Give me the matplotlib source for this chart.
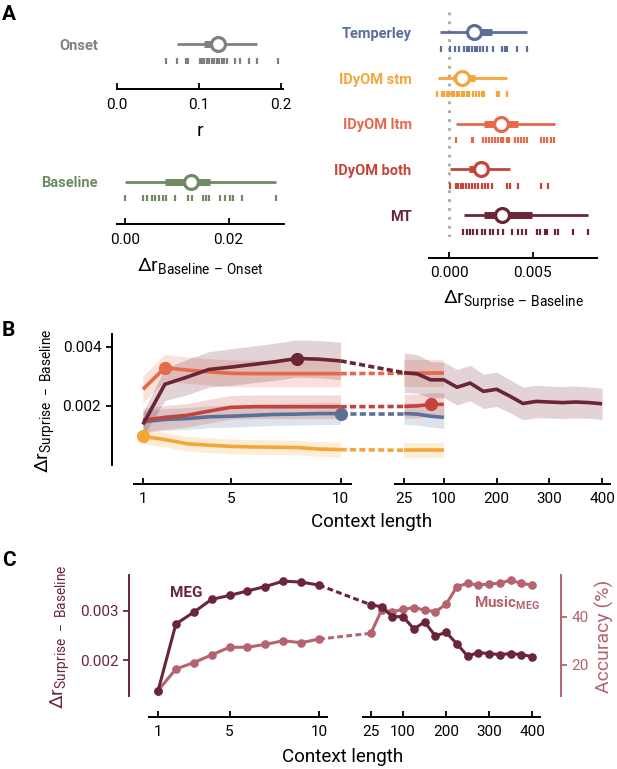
import numpy as np
import matplotlib
matplotlib.use('Agg')
import matplotlib.pyplot as plt
import matplotlib.transforms as mtransforms

plt.rcParams['font.family'] = ['Roboto', 'DejaVu Sans']
plt.rcParams['mathtext.fontset'] = 'custom'
plt.rcParams['mathtext.rm'] = 'Roboto'
plt.rcParams['mathtext.it'] = 'Roboto'
plt.rcParams['mathtext.bf'] = 'Roboto:bold'
plt.rcParams['mathtext.default'] = 'regular'
plt.rcParams['axes.linewidth'] = 1.4
plt.rcParams['xtick.major.width'] = 1.3
plt.rcParams['ytick.major.width'] = 1.3
plt.rcParams['xtick.major.size'] = 4
plt.rcParams['ytick.major.size'] = 4
plt.rcParams['xtick.labelsize'] = 11
plt.rcParams['ytick.labelsize'] = 11

# ---------------- data ----------------
# panel A, left: Onset (r) and Baseline (delta r)
onset_rug = [0.060, 0.073, 0.084, 0.087, 0.101, 0.104, 0.107, 0.110, 0.113, 0.116, 0.119,
             0.122, 0.125, 0.128, 0.131, 0.134, 0.144, 0.150, 0.161, 0.171, 0.197]
onset_stats = [0.074, 0.106, 0.124, 0.131, 0.171]   # lo, q1, centre, q3, hi
baseline_rug = [0.0, 0.0035, 0.0043, 0.0052, 0.0058, 0.0066, 0.0074, 0.0080, 0.0097, 0.0122,
                0.0129, 0.0150, 0.0156, 0.0163, 0.0183, 0.0193, 0.0203, 0.0209, 0.0225, 0.0291]
baseline_stats = [0.0, 0.0078, 0.0127, 0.0165, 0.0291]

# panel A, right: surprise models
models = ['Temperley', 'IDyOM stm', 'IDyOM ltm', 'IDyOM both', 'MT']
model_stats = [
    [-0.00054, 0.0011, 0.0015, 0.00254, 0.00464],
    [-0.0007, 0.00024, 0.00078, 0.00156, 0.00346],
    [0.0004, 0.0021, 0.0031, 0.00414, 0.00634],
    [0.00004, 0.0012, 0.00188, 0.0023, 0.00364],
    [0.0009, 0.0021, 0.00318, 0.00494, 0.00834],
]
temperley_rug = [-0.00052, 0.00004, 0.00034, 0.0006, 0.0009, 0.00104, 0.0012, 0.00136, 0.00152,
                 0.00168, 0.00184, 0.00204, 0.00228, 0.0026, 0.00314, 0.00334, 0.00348, 0.00408, 0.00468]
stm_rug = [-0.00072, -0.00046, -0.00032, -0.00016, 0.0, 0.00016, 0.00028, 0.00044, 0.0006, 0.00074,
           0.0009, 0.00104, 0.0012, 0.00144, 0.0016, 0.0018, 0.00194, 0.00208, 0.00284, 0.003, 0.00348]
ltm_rug = [0.0004, 0.00134, 0.00144, 0.00204, 0.0022, 0.00236, 0.00254, 0.00274, 0.00294, 0.00308,
           0.00324, 0.00344, 0.00358, 0.00396, 0.00412, 0.00432, 0.00448, 0.00464, 0.00548, 0.00568,
           0.00588, 0.00608, 0.00628]
both_rug = [0.00004, 0.0004, 0.00054, 0.00068, 0.00084, 0.001, 0.0012, 0.00134, 0.00154, 0.00174,
            0.00194, 0.00214, 0.00234, 0.00254, 0.00348, 0.00364, 0.00414, 0.00548, 0.00594]
mt_rug = [0.00084, 0.00104, 0.00124, 0.00144, 0.00164, 0.00194, 0.00214, 0.00244, 0.00264, 0.00294,
          0.0032, 0.00374, 0.00414, 0.00434, 0.0046, 0.00524, 0.00544, 0.00574, 0.00588, 0.00634,
          0.00654, 0.00744, 0.00834]
model_rugs = [temperley_rug, stm_rug, ltm_rug, both_rug, mt_rug]

# panels B and C: context length
ctx_short = [1, 2, 3, 4, 5, 6, 7, 8, 9, 10]
ctx_long = [25, 50, 75, 100, 125, 150, 175, 200, 225, 250, 275, 300, 325, 350, 375, 400]
ctx_ticks = [1, 5, 10, 25, 100, 200, 300, 400]

mt_short = [0.00137, 0.00273, 0.00297, 0.00323, 0.00331, 0.00340, 0.00349, 0.00360, 0.00358, 0.00352]
mt_long = [0.00312, 0.00308, 0.00288, 0.00288, 0.00263, 0.00277, 0.00249, 0.00256, 0.00233,
           0.00208, 0.00215, 0.00213, 0.00211, 0.00213, 0.00211, 0.00207]
mt_sem_short = [0.0004, 0.00055, 0.0006, 0.0006, 0.00062, 0.00062, 0.00063, 0.00063, 0.00063, 0.00063]
mt_sem_long = [0.00067, 0.00065, 0.00062, 0.0006, 0.0006, 0.0006, 0.00058, 0.00058, 0.00056,
               0.00055, 0.00055, 0.00054, 0.00054, 0.00054, 0.00053, 0.00053]

ltm_short = [0.00256, 0.00329, 0.00321, 0.00315, 0.00310, 0.00309, 0.00309, 0.00309, 0.00309, 0.00309]
ltm_long = [0.00310, 0.00310, 0.00310, 0.00310]
both_short = [0.00152, 0.00161, 0.00168, 0.00182, 0.00195, 0.00197, 0.00197, 0.00197, 0.00197, 0.00197]
both_long = [0.00198, 0.00200, 0.00205, 0.00205]
temp_short = [0.00146, 0.00154, 0.00157, 0.00163, 0.00165, 0.00168, 0.00171, 0.00172, 0.00174, 0.00174]
temp_long = [0.00174, 0.00172, 0.00165, 0.00161]
stm_short = [0.00097, 0.00086, 0.00072, 0.00067, 0.00063, 0.00061, 0.00060, 0.00059, 0.00054, 0.00052]
stm_long = [0.00050, 0.00050, 0.00050, 0.00050]
ltm_sem, both_sem, temp_sem, stm_sem = 0.00045, 0.0004, 0.00037, 0.00025
best_ctx = {'Temperley': 10, 'IDyOM stm': 1, 'IDyOM ltm': 2, 'IDyOM both': 75, 'MT': 8}

acc_short = [9.3, 18.3, 21.0, 24.2, 27.4, 27.4, 28.6, 30.1, 29.3, 30.8]
acc_long = [33.2, 42.9, 42.2, 43.2, 43.9, 42.9, 42.2, 45.3, 52.6, 54.0, 53.3, 53.8, 54.0, 55.4, 54.0, 53.3]

colors = {'Temperley': '#5b6f98', 'IDyOM stm': '#f4a63a', 'IDyOM ltm': '#e6694a',
          'IDyOM both': '#c4443a', 'MT': '#6a2536'}
c_onset = '#808080'
c_base = '#6e8b62'
c_acc = '#b5636f'

W, H = 617, 769
fig = plt.figure(figsize=(W / 100, H / 100), dpi=100)


def add_ax(x0, y0, x1, y1):
    return fig.add_axes([x0 / W, 1 - y1 / H, (x1 - x0) / W, (y1 - y0) / H])


STEP = 1.665
GAP = 4.83


def xpos(n):
    n = np.asarray(n, float)
    return np.where(n <= 10, (n - 1) * STEP, 9 * STEP + GAP + (n - 25) / 25)


def forest(ax, names, cols, stats, rugs, pad):
    for i in range(len(names)):
        c = cols[i]
        lo, q1, med, q3, hi = stats[i]
        ax.plot([lo, hi], [i, i], color=c, lw=2.0, solid_capstyle='butt')
        ax.plot([q1, q3], [i, i], color=c, lw=5, solid_capstyle='butt')
        ax.plot(med, i, 'o', ms=10, mfc='white', mec=c, mew=2.3)
        ax.plot(rugs[i], np.full(len(rugs[i]), i + 0.36), '|', color=c, ms=4.6, mew=1.6)
    ax.set_yticks(range(len(names)))
    ax.set_yticklabels(names, fontweight='bold', fontsize=10.5)
    for t, c in zip(ax.get_yticklabels(), cols):
        t.set_color(c)
    ax.tick_params(axis='y', length=0, pad=pad)
    ax.tick_params(axis='x', direction='in', pad=6)
    for s in ['left', 'top', 'right']:
        ax.spines[s].set_visible(False)


# ---------------- panel A ----------------
axO = add_ax(116.7, 21.5, 283, 67.1)
forest(axO, ['Onset'], [c_onset], [onset_stats], [onset_rug], 13.5)
axO.set_ylim(0.5, -0.5)
axO.set_xlim(0, 0.2028)
axO.set_xticks([0, 0.1, 0.2])
axO.set_xticklabels(['0.0', '0.1', '0.2'])
axO.spines['bottom'].set_position(('outward', 16))
axO.set_xlabel('r', fontsize=14)
axO.xaxis.set_label_coords(0.5, -1.2)

axBl = add_ax(116.7, 158.9, 284, 204.5)
forest(axBl, ['Baseline'], [c_base], [baseline_stats], [baseline_rug], 13.5)
axBl.set_ylim(0.5, -0.5)
axBl.set_xlim(-0.0016, 0.0307)
axBl.set_xticks([0, 0.02])
axBl.set_xticklabels(['0.00', '0.02'])
axBl.spines['bottom'].set_position(('outward', 14.3))
axBl.set_xlabel('$\\Delta r_{Baseline\\ \u2013\\ Onset}$', fontsize=14)
axBl.xaxis.set_label_coords(0.5, -1.12)

axM = add_ax(429, 10, 597.3, 237)
forest(axM, models, [colors[m] for m in models], model_stats, model_rugs, 12.5)
axM.axvline(0, color='#a8a8a8', ls=(0, (1, 2.2)), lw=2, zorder=0)
axM.set_ylim(4.48, -0.49)
axM.set_xlim(-0.00122, 0.00887)
axM.set_xticks([0, 0.005])
axM.set_xticklabels(['0.000', '0.005'])
axM.spines['bottom'].set_position(('outward', 14.9))
axM.set_xlabel('$\\Delta r_{Surprise\\ \u2013\\ Baseline}$', fontsize=14)
axM.xaxis.set_label_coords(0.5, -0.23)


def broken_bottom(ax, off_pt, xlim, left_end, right_start):
    sp = ax.spines['bottom']
    sp.set_position(('outward', off_pt))
    sp.set_visible(False)
    tr = ax.get_xaxis_transform() + mtransforms.ScaledTranslation(0, -off_pt / 72, fig.dpi_scale_trans)
    ax.plot([xlim[0], left_end], [0, 0], color='k', lw=1.4, transform=tr, clip_on=False,
            solid_capstyle='butt')
    ax.plot([right_start, xlim[1]], [0, 0], color='k', lw=1.4, transform=tr, clip_on=False,
            solid_capstyle='butt')
    ax.set_xlim(*xlim)
    ax.set_xticks(xpos(ctx_ticks))
    ax.set_xticklabels([str(t) for t in ctx_ticks])
    ax.tick_params(axis='x', direction='in', pad=6)


x10 = float(xpos(10))
x25 = float(xpos(25))

# ---------------- panel B ----------------
axB = add_ax(133, 334, 611, 465)
b_series = [
    ('Temperley', temp_short, temp_long, [temp_sem] * 10, [temp_sem] * 4),
    ('IDyOM stm', stm_short, stm_long, [stm_sem] * 10, [stm_sem] * 4),
    ('IDyOM both', both_short, both_long, [both_sem] * 10, [both_sem] * 4),
    ('IDyOM ltm', ltm_short, ltm_long, [ltm_sem] * 10, [ltm_sem] * 4),
    ('MT', mt_short, mt_long, mt_sem_short, mt_sem_long),
]
for name, ys, yl, ss, sl in b_series:
    c = colors[name]
    ys, yl, ss, sl = map(np.asarray, (ys, yl, ss, sl))
    xs = xpos(ctx_short)
    xl = xpos(ctx_long[:len(yl)])
    axB.fill_between(xs, ys - ss, ys + ss, color=c, alpha=0.2, lw=0)
    axB.fill_between(xl, yl - sl, yl + sl, color=c, alpha=0.2, lw=0)
    axB.plot(xs, ys, color=c, lw=2.6, solid_capstyle='butt')
    axB.plot(xl, yl, color=c, lw=2.6, solid_capstyle='butt')
    axB.plot([x10, x25], [ys[-1], yl[0]], color=c, lw=2.6, ls=(0, (1.7, 0.9)))
    allx = list(ctx_short) + list(ctx_long[:len(yl)])
    ally = list(ys) + list(yl)
    b = best_ctx[name]
    axB.plot(xpos(b), ally[allx.index(b)], 'o', ms=8.5, color=c)

axB.set_ylim(0, 0.00443)
axB.set_yticks([0.002, 0.004])
axB.set_yticklabels(['0.002', '0.004'])
axB.spines['left'].set_position(('outward', 15.3))
for s in ['top', 'right']:
    axB.spines[s].set_visible(False)
broken_bottom(axB, 13.7, (-0.752, 35.49), x10 + 0.83, x25 - 0.75)
axB.set_xlabel('Context length', fontsize=13.5)
axB.xaxis.set_label_coords(0.5, -0.37)
axB.set_ylabel('$\\Delta r_{Surprise\\ -\\ Baseline}$', fontsize=14)
axB.yaxis.set_label_coords(-0.158, 0.49)

# ---------------- panel C ----------------
axC = add_ax(148, 575, 541, 696)
axC2 = axC.twinx()
dark = colors['MT']
xs = xpos(ctx_short)
xl = xpos(ctx_long)
axC2.plot(xs, acc_short, '-o', color=c_acc, lw=2.2, ms=5.2)
axC2.plot(xl, acc_long, '-o', color=c_acc, lw=2.2, ms=5.2)
axC2.plot([x10, x25], [acc_short[-1], acc_long[0]], color=c_acc, lw=2.2, ls=(0, (1.9, 1.1)))
axC.plot(xs, mt_short, '-o', color=dark, lw=2.2, ms=5.2)
axC.plot(xl, mt_long, '-o', color=dark, lw=2.2, ms=5.2)
axC.plot([x10, x25], [mt_short[-1], mt_long[0]], color=dark, lw=2.2, ls=(0, (1.9, 1.1)))
axC.set_zorder(axC2.get_zorder() + 1)
axC.patch.set_visible(False)

axC.set_ylim(0.00127, 0.003724)
axC.set_yticks([0.002, 0.003])
axC.set_yticklabels(['0.002', '0.003'])
axC2.set_ylim(7.08, 57.5)
axC2.set_yticks([20, 40])
axC.spines['left'].set_position(('outward', 13.7))
axC.spines['left'].set_color(dark)
axC.tick_params(axis='y', colors=dark)
axC2.spines['right'].set_position(('outward', 14.4))
axC2.spines['right'].set_color(c_acc)
axC2.tick_params(axis='y', colors=c_acc)
for s in ['top', 'right']:
    axC.spines[s].set_visible(False)
for s in ['top', 'left', 'bottom']:
    axC2.spines[s].set_visible(False)
broken_bottom(axC, 14.9, (-0.93, 35.65), x10 + 0.84, x25 - 0.84)
axC.set_xlabel('Context length', fontsize=13.5)
axC.xaxis.set_label_coords(0.494, -0.43)
axC.set_ylabel('$\\Delta r_{Surprise\\ -\\ Baseline}$', fontsize=14, color=dark)
axC.yaxis.set_label_coords(-0.193, 0.49)
axC2.set_ylabel('Accuracy (%)', fontsize=14, color=c_acc)
axC2.yaxis.set_label_coords(1.137, 0.49)
axC.text(0.056, 0.85, 'MEG', transform=axC.transAxes, color=dark, fontsize=11,
         fontweight='bold', va='center')
axC.text(0.83, 0.77, 'Music$_{\\mathbf{MEG}}$', transform=axC.transAxes, color=c_acc,
         fontsize=11, fontweight='bold', va='center')

# panel letters
fig.text(2 / W, 1 - 5 / H, 'A', fontsize=15, fontweight='bold', va='top')
fig.text(2 / W, 1 - 321 / H, 'B', fontsize=15, fontweight='bold', va='top')
fig.text(2 / W, 1 - 551 / H, 'C', fontsize=15, fontweight='bold', va='top')

fig.savefig('out.png', dpi=100)
